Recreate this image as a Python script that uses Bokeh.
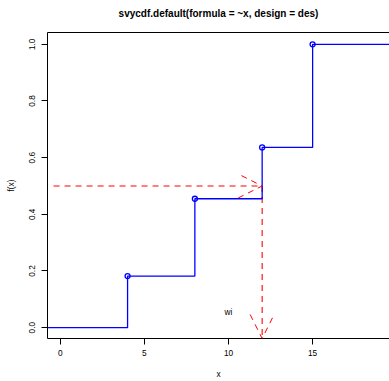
from bokeh.plotting import figure
from bokeh.models import (FixedTicker, PrintfTickFormatter, Arrow, OpenHead,
                          LinearAxis, Range1d, Label)
from bokeh.embed import file_html
from bokeh.resources import INLINE

# ---- data ----
x_jumps = [4, 8, 12, 15]
cdf_vals = [0.182, 0.455, 0.636, 1.0]
x_lo, x_hi = -0.76, 19.57
y_lo, y_hi = -0.0383, 1.0417
arrow_y = 0.5          # probability level
arrow_x = 12           # quantile
arrow_x_start = -0.4
text_x, text_y, text_str = 10, 0.055, "wi"
x_ticks = [0, 5, 10, 15]
y_ticks = [0.0, 0.2, 0.4, 0.6, 0.8, 1.0]
title_str = "svycdf.default(formula = ~x, design = des)"

FONT = "Liberation Sans"
BLUE = "#0000FF"
RED = "#FF0000"

p = figure(width=389, height=381, output_backend="svg", toolbar_location=None,
           x_range=Range1d(x_lo, x_hi), y_range=Range1d(y_lo, y_hi),
           min_border_left=47, min_border_right=0, min_border_top=32,
           min_border_bottom=41, x_axis_label="x", y_axis_label="f(x)")
p.title.text = title_str
p.title.text_font = FONT
p.title.text_font_size = "10px"
p.title.text_font_style = "bold"
p.title.text_color = "black"
p.title.align = "center"

p.outline_line_color = None
p.xgrid.visible = False
p.ygrid.visible = False
p.background_fill_color = "white"
p.border_fill_color = "white"

for ax in (p.xaxis[0], p.yaxis[0]):
    ax.axis_line_color = "black"
    ax.axis_line_width = 1
    ax.major_tick_out = 6
    ax.major_tick_in = 0
    ax.minor_tick_line_color = None
    ax.major_tick_line_color = "black"
    ax.major_label_text_font = FONT
    ax.major_label_text_font_size = "8.3px"
    ax.major_label_text_color = "black"
    ax.axis_label_text_font = FONT
    ax.axis_label_text_font_size = "8.3px"
    ax.axis_label_text_font_style = "normal"
    ax.axis_label_text_color = "black"
    ax.major_label_standoff = 5
    ax.axis_label_standoff = 10

p.xaxis[0].ticker = FixedTicker(ticks=x_ticks)
p.yaxis[0].ticker = FixedTicker(ticks=y_ticks)
p.yaxis[0].formatter = PrintfTickFormatter(format="%.1f")
p.yaxis[0].major_label_orientation = "vertical"
p.yaxis[0].major_label_standoff = 6
p.yaxis[0].axis_label_standoff = 11

# top side of the box (no ticks); an invisible label spaces the title upward
top_axis = LinearAxis(ticker=FixedTicker(ticks=[]), axis_line_color="black",
                      major_tick_out=0, major_tick_in=0,
                      major_tick_line_color=None,
                      minor_tick_line_color=None,
                      major_label_text_font_size="0px",
                      axis_label=" ", axis_label_text_font_size="6px",
                      axis_label_text_color=None, axis_label_standoff=0)
p.add_layout(top_axis, "above")

# arrows: dashed bodies as lines, open dashed heads as Arrow annotations
dash = "6 5"
p.line([arrow_x_start, arrow_x], [arrow_y, arrow_y],
       line_color=RED, line_width=1.1, line_dash=dash)
p.line([arrow_x, arrow_x], [arrow_y, y_lo],
       line_color=RED, line_width=1.1, line_dash=dash)

# step function
sx = [x_lo] + x_jumps + [x_hi]
sy = [0.0] + cdf_vals + [cdf_vals[-1]]
p.step(sx, sy, mode="after", line_color=BLUE, line_width=1.3)
p.scatter(x_jumps, cdf_vals, marker="circle", size=5, fill_color=None,
          line_color=BLUE, line_width=1.3)

p.add_layout(Arrow(end=OpenHead(size=24, line_color=RED, line_width=1, line_dash=dash),
                   x_start=arrow_x_start, y_start=arrow_y, x_end=arrow_x, y_end=arrow_y,
                   line_color=None))
p.add_layout(Arrow(end=OpenHead(size=24, line_color=RED, line_width=1, line_dash=dash),
                   x_start=arrow_x, y_start=arrow_y, x_end=arrow_x, y_end=y_lo,
                   line_color=None))

p.add_layout(Label(x=text_x, y=text_y, text=text_str, text_font=FONT,
                   text_font_size="8.3px", text_align="center",
                   text_baseline="middle", text_color="black"))

open("out.html", "w").write(file_html(p, INLINE))
